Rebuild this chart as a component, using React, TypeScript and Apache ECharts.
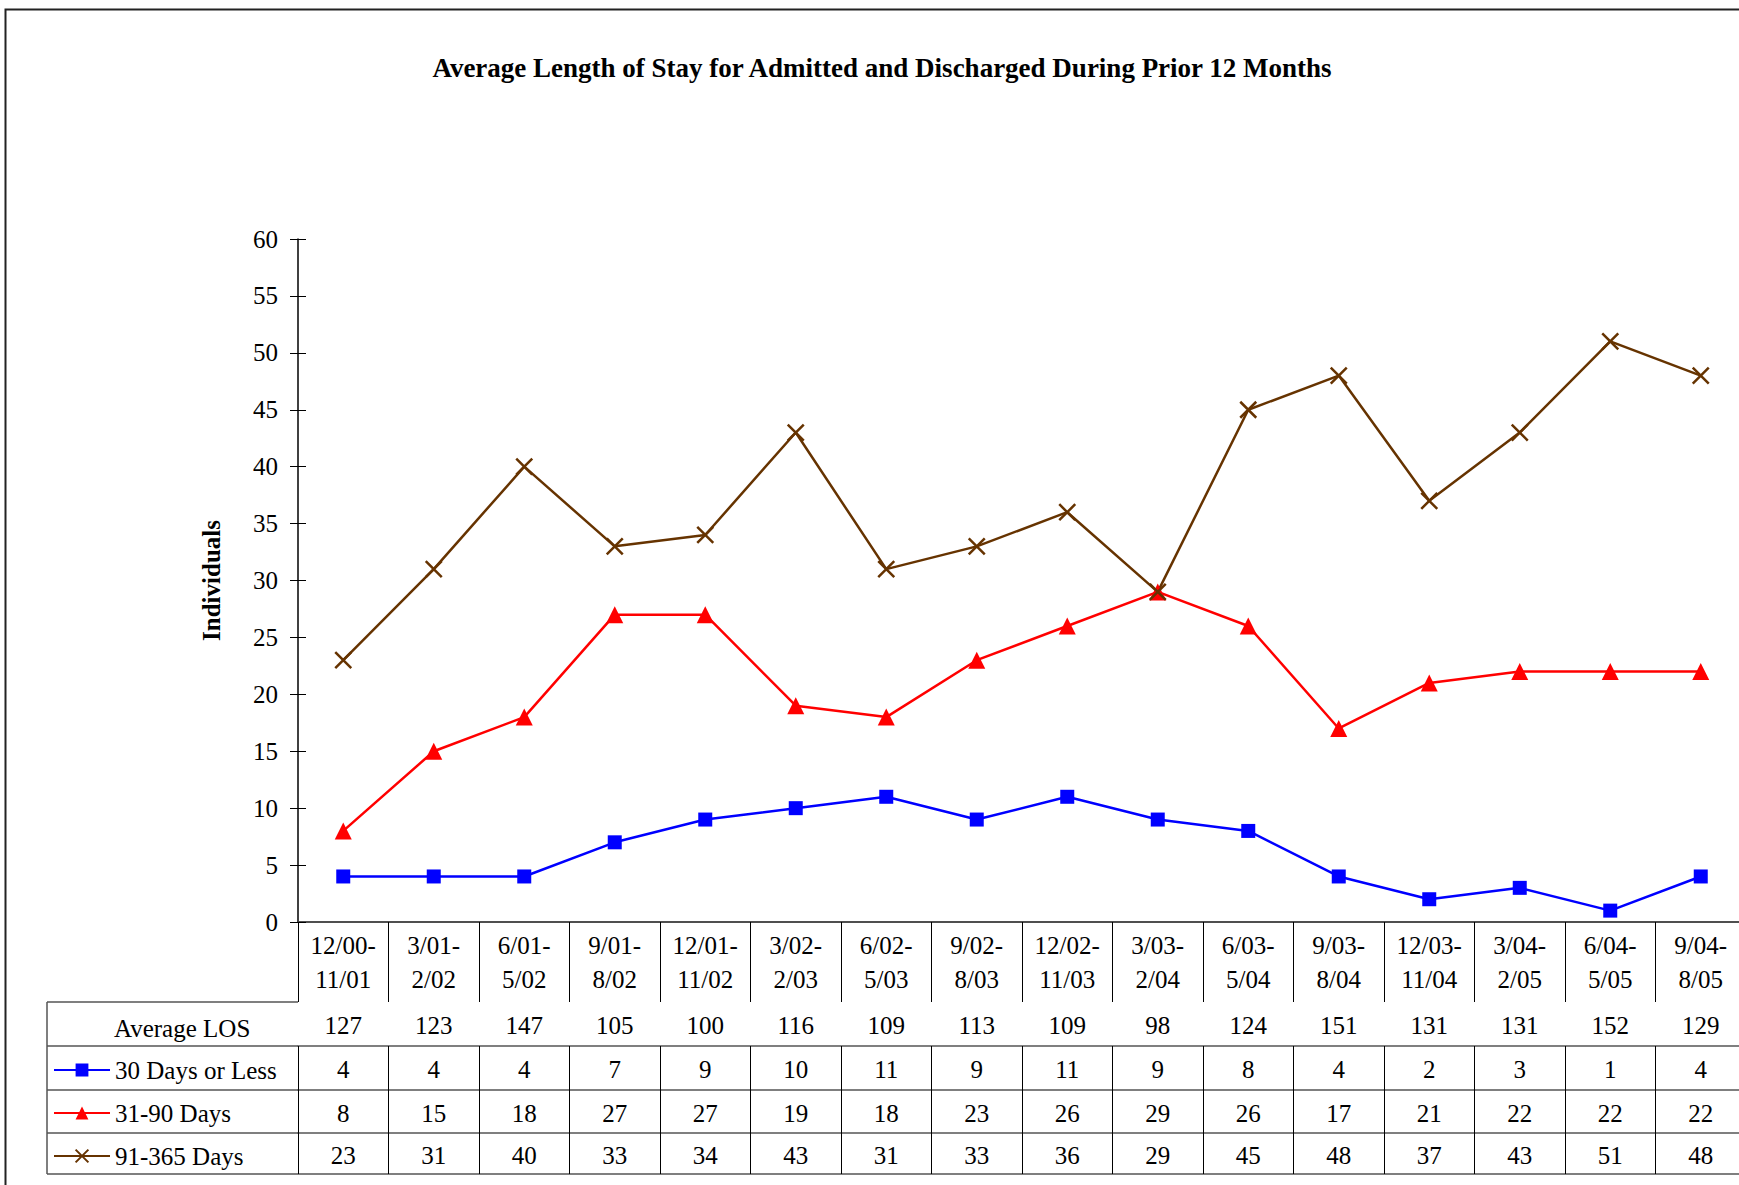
import React, { useEffect, useRef } from "react";
import * as echarts from "echarts";

const categories = [
  "12/00-\n11/01", "3/01-\n2/02", "6/01-\n5/02", "9/01-\n8/02", "12/01-\n11/02", "3/02-\n2/03",
  "6/02-\n5/03", "9/02-\n8/03", "12/02-\n11/03", "3/03-\n2/04", "6/03-\n5/04", "9/03-\n8/04",
  "12/03-\n11/04", "3/04-\n2/05", "6/04-\n5/05", "9/04-\n8/05",
];
const averageLOS = [127, 123, 147, 105, 100, 116, 109, 113, 109, 98, 124, 151, 131, 131, 152, 129];
const days30OrLess = [4, 4, 4, 7, 9, 10, 11, 9, 11, 9, 8, 4, 2, 3, 1, 4];
const days31to90 = [8, 15, 18, 27, 27, 19, 18, 23, 26, 29, 26, 17, 21, 22, 22, 22];
const days91to365 = [23, 31, 40, 33, 34, 43, 31, 33, 36, 29, 45, 48, 37, 43, 51, 48];
const seriesNames = ["30 Days or Less", "31-90 Days", "91-365 Days"];
const yMin = 0;
const yMax = 60;
const yInterval = 5;

const FONT = "'Liberation Serif', 'Times New Roman', serif";
const FS = 25;

const GRID_LEFT = 298;
const GRID_TOP = 239;
const GRID_W = 1448;
const GRID_H = 683;
const CHART_W = 1760;
const CHART_H = 1400;
const AXIS_Y = GRID_TOP + GRID_H; // 922
const ROW_TOPS = [1002, 1046, 1090, 1133];
const TABLE_BOTTOM = 1174;
const TABLE_LEFT = 47;

function rowAxis(values: number[], idx: number) {
  const top = ROW_TOPS[idx];
  const bottom = idx + 1 < ROW_TOPS.length ? ROW_TOPS[idx + 1] : TABLE_BOTTOM;
  const h = bottom - top;
  return {
    type: "category",
    gridIndex: 0,
    position: "bottom",
    offset: top - AXIS_Y,
    data: values.map(String),
    boundaryGap: true,
    axisLine: { show: true, lineStyle: { color: "#555", width: 1.5 } },
    axisTick: { show: true, interval: 0, length: h, lineStyle: { color: "#000", width: 1 } },
    axisLabel: {
      show: true,
      interval: 0,
      margin: Math.round((h - 26) / 2) + 1,
      fontFamily: FONT,
      fontSize: FS,
      lineHeight: 26,
      color: "#000",
    },
    splitLine: { show: false },
  };
}

export default function App() {
  const ref = useRef<HTMLDivElement>(null);
  useEffect(() => {
    if (!ref.current) return;
    const chart = echarts.init(ref.current, null, { renderer: "svg" });
    const lineColors = ["#0000FF", "#FF0000", "#663300"];
    const option: any = {
      animation: false,
      backgroundColor: "#fff",
      title: {
        text: "Average Length of Stay for Admitted and Discharged During Prior 12 Months",
        left: 877,
        textAlign: "center",
        top: 49,
        textStyle: { fontFamily: FONT, fontSize: 27, fontWeight: "bold", color: "#000" },
      },
      grid: { left: GRID_LEFT, top: GRID_TOP, width: GRID_W, height: GRID_H, containLabel: false },
      legend: {
        orient: "vertical",
        left: 53,
        top: 1056,
        padding: 0,
        itemWidth: 56,
        itemHeight: 16,
        itemGap: 15,
        data: seriesNames,
        textStyle: { fontFamily: FONT, fontSize: FS, lineHeight: 28, color: "#000" },
        selectedMode: false,
      },
      xAxis: [
        {
          type: "category",
          gridIndex: 0,
          position: "bottom",
          data: categories,
          boundaryGap: true,
          axisLine: { show: true, lineStyle: { color: "#000", width: 1.5 } },
          axisTick: { show: true, interval: 0, length: ROW_TOPS[0] - AXIS_Y, lineStyle: { color: "#000", width: 1 } },
          axisLabel: {
            show: true,
            interval: 0,
            margin: 6,
            fontFamily: FONT,
            fontSize: FS,
            lineHeight: 34,
            color: "#000",
          },
          splitLine: { show: false },
        },
        rowAxis(averageLOS, 0),
        rowAxis(days30OrLess, 1),
        rowAxis(days31to90, 2),
        rowAxis(days91to365, 3),
      ],
      yAxis: [
        {
          type: "value",
          gridIndex: 0,
          min: yMin,
          max: yMax,
          interval: yInterval,
          name: "Individuals",
          nameLocation: "middle",
          nameGap: 74,
          nameTextStyle: { fontFamily: FONT, fontSize: 25, fontWeight: "bold", color: "#000" },
          axisLine: { show: true, lineStyle: { color: "#000", width: 1.5 } },
          axisTick: { show: true, length: 8, lineStyle: { color: "#000", width: 1 } },
          axisLabel: { margin: 20, fontFamily: FONT, fontSize: FS, color: "#000" },
          splitLine: { show: false },
        },
        {
          type: "value",
          gridIndex: 0,
          position: "left",
          min: yMin,
          max: yMax,
          interval: yInterval,
          axisLine: { show: false },
          axisTick: { show: true, inside: true, length: 8, lineStyle: { color: "#000", width: 1 } },
          axisLabel: { show: false },
          splitLine: { show: false },
        },
      ],
      series: [
        {
          name: seriesNames[0],
          type: "line",
          xAxisIndex: 0,
          yAxisIndex: 0,
          data: days30OrLess,
          symbol: "rect",
          symbolSize: 14,
          lineStyle: { color: lineColors[0], width: 2.5 },
          itemStyle: { color: lineColors[0] },
        },
        {
          name: seriesNames[1],
          type: "line",
          xAxisIndex: 0,
          yAxisIndex: 0,
          data: days31to90,
          symbol: "triangle",
          symbolSize: 17,
          lineStyle: { color: lineColors[1], width: 2.5 },
          itemStyle: { color: lineColors[1] },
        },
        {
          name: seriesNames[2],
          type: "line",
          xAxisIndex: 0,
          yAxisIndex: 0,
          data: days91to365,
          symbol: "path://M0,0L10,10M0,10L10,0",
          symbolSize: 16,
          lineStyle: { color: lineColors[2], width: 2.5 },
          itemStyle: { color: lineColors[2], borderColor: lineColors[2], borderWidth: 2.5 },
        },
      ],
      graphic: [
        {
          type: "rect",
          silent: true,
          shape: { x: 5.5, y: 9.5, width: 1900, height: 1600 },
          style: { fill: "none", stroke: "#222", lineWidth: 2 },
        },
        ...ROW_TOPS.concat([TABLE_BOTTOM]).map((y) => ({
          type: "line",
          silent: true,
          shape: { x1: TABLE_LEFT, y1: y, x2: y === TABLE_BOTTOM ? GRID_LEFT + GRID_W : GRID_LEFT, y2: y },
          style: { stroke: "#555", lineWidth: 1.5 },
        })),
        {
          type: "line",
          silent: true,
          shape: { x1: TABLE_LEFT, y1: ROW_TOPS[0], x2: TABLE_LEFT, y2: TABLE_BOTTOM },
          style: { stroke: "#555", lineWidth: 1.5 },
        },
        {
          type: "text",
          silent: true,
          x: 114,
          y: 1028,
          style: {
            text: "Average LOS",
            fontFamily: FONT,
            fontSize: FS,
            fill: "#000",
            textVerticalAlign: "middle",
          },
        },
      ],
    };
    chart.setOption(option);
    return () => chart.dispose();
  }, []);
  return (
    <div style={{ position: "absolute", left: 0, top: 0, width: 1739, height: 1185, overflow: "hidden", background: "#fff" }}>
      <div ref={ref} style={{ width: CHART_W, height: CHART_H }} />
    </div>
  );
}
